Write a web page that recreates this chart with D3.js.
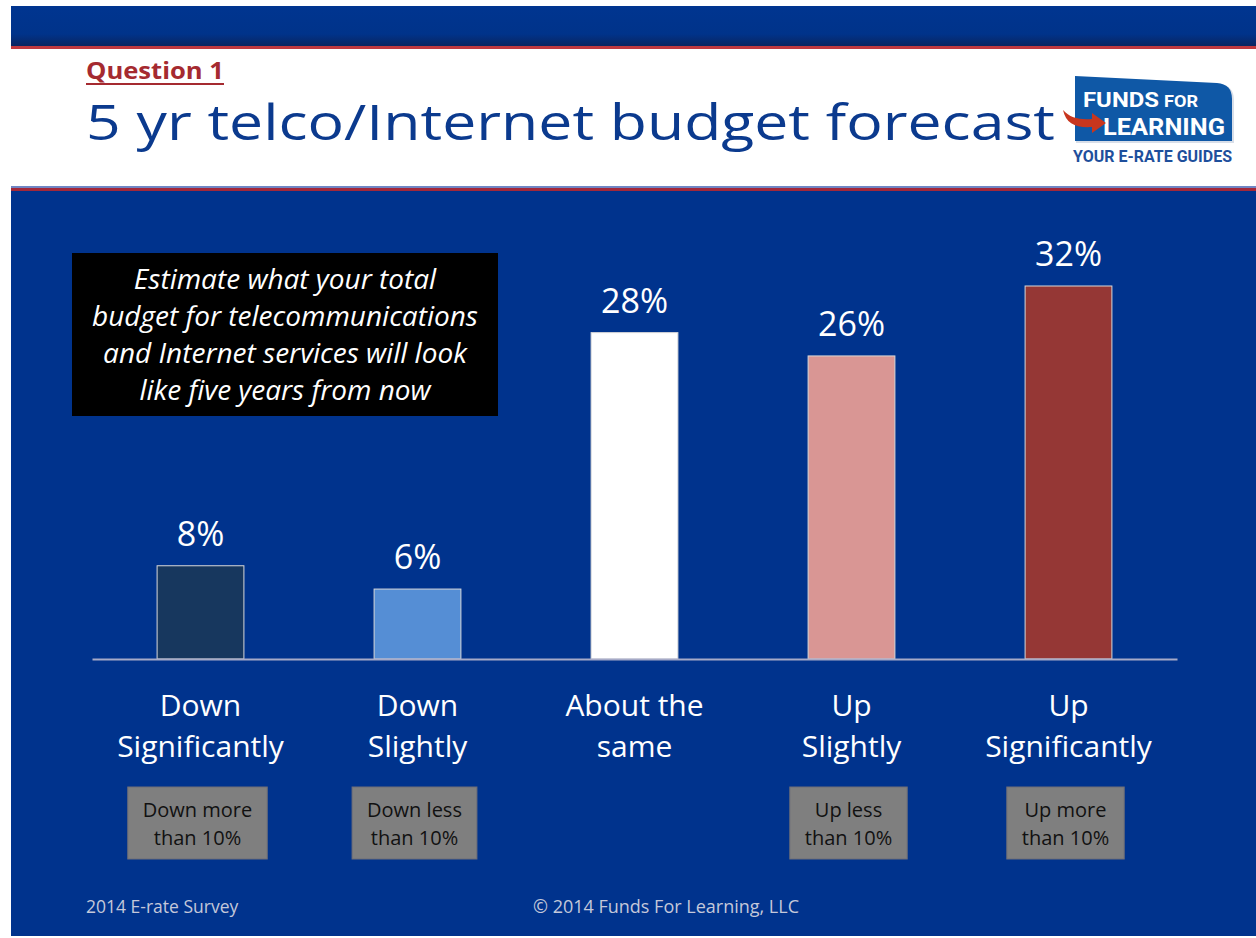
<!DOCTYPE html>
<html>
<head>
<meta charset="utf-8">
<script src="https://cdn.jsdelivr.net/npm/d3@7"></script>
<style>
  html, body { margin: 0; padding: 0; background: #ffffff; }
  svg { display: block; }
</style>
</head>
<body>
<script>
// ---------------- data ----------------
const categories = [
  ["Down", "Significantly"],
  ["Down", "Slightly"],
  ["About the", "same"],
  ["Up", "Slightly"],
  ["Up", "Significantly"]
];
const values = [8, 6, 28, 26, 32];
const notes = [
  ["Down more", "than 10%"],
  ["Down less", "than 10%"],
  null,
  ["Up less", "than 10%"],
  ["Up more", "than 10%"]
];
const barColors = ["#17375E", "#558ED5", "#FFFFFF", "#D99694", "#953735"];
const questionLabel = "Question 1";
const titleText = "5 yr telco/Internet budget forecast";
const promptLines = [
  "Estimate what your total",
  "budget for telecommunications",
  "and Internet services will look",
  "like five years from now"
];
const footerLeft = "2014 E-rate Survey";
const footerCenter = "\u00A9 2014 Funds For Learning, LLC";

// ---------------- setup ----------------
const W = 1256, H = 938;
const FONT = "'Open Sans', 'Noto Sans', sans-serif";
const BLUE = "#00338D";

const svg = d3.select("body").append("svg")
  .attr("width", W).attr("height", H)
  .style("font-family", FONT);

const defs = svg.append("defs");
const grad = defs.append("linearGradient").attr("id", "topband")
  .attr("x1", 0).attr("y1", 0).attr("x2", 0).attr("y2", 1);
grad.append("stop").attr("offset", "0%").attr("stop-color", "#003590");
grad.append("stop").attr("offset", "70%").attr("stop-color", "#00338A");
grad.append("stop").attr("offset", "100%").attr("stop-color", "#0A2560");

// background
svg.append("rect").attr("width", W).attr("height", H).attr("fill", "#ffffff");
// top band
svg.append("rect").attr("x", 11).attr("y", 6).attr("width", W - 11).attr("height", 40).attr("fill", "url(#topband)");
svg.append("rect").attr("x", 11).attr("y", 46).attr("width", W - 11).attr("height", 3).attr("fill", "#C0393F");
// lower header lines + main panel
svg.append("rect").attr("x", 11).attr("y", 186).attr("width", W - 11).attr("height", 2).attr("fill", "#6F86C4");
svg.append("rect").attr("x", 11).attr("y", 188).attr("width", W - 11).attr("height", 3).attr("fill", "#A3283A");
svg.append("rect").attr("x", 11).attr("y", 191).attr("width", W - 11).attr("height", 745).attr("fill", BLUE);

// ---------------- header text ----------------
svg.append("text").attr("x", 86).attr("y", 79)
  .attr("font-size", 24).attr("font-weight", 700).attr("fill", "#A52A30")
  .attr("textLength", 138).attr("lengthAdjust", "spacingAndGlyphs")
  .text(questionLabel);
svg.append("rect").attr("x", 86).attr("y", 83).attr("width", 138).attr("height", 2).attr("fill", "#A52A30");

svg.append("text").attr("x", 86).attr("y", 140)
  .attr("font-size", 50).attr("fill", "#0B3A8E")
  .attr("textLength", 969).attr("lengthAdjust", "spacingAndGlyphs")
  .text(titleText);

// ---------------- logo ----------------
const logo = svg.append("g");
logo.append("path")
  .attr("d", "M1076,77 L1218,84 Q1234,85 1234,100 L1234,143 L1076,143 Z")
  .attr("fill", "#D8DEE8");
logo.append("path")
  .attr("d", "M1075,76 L1217,83 Q1232,84 1232,99 L1232,141 L1075,141 Z")
  .attr("fill", "#0F58A6");
logo.append("text").attr("x", 1083).attr("y", 107)
  .attr("font-family", "Roboto, sans-serif").attr("font-weight", 700)
  .attr("font-size", 21).attr("fill", "#ffffff")
  .attr("textLength", 76).attr("lengthAdjust", "spacingAndGlyphs").text("FUNDS");
logo.append("text").attr("x", 1164).attr("y", 107)
  .attr("font-family", "Roboto, sans-serif").attr("font-weight", 700)
  .attr("font-size", 16).attr("fill", "#ffffff")
  .attr("textLength", 34).attr("lengthAdjust", "spacingAndGlyphs").text("FOR");
logo.append("text").attr("x", 1103).attr("y", 135)
  .attr("font-family", "Roboto, sans-serif").attr("font-weight", 700)
  .attr("font-size", 24).attr("fill", "#ffffff")
  .attr("textLength", 122).attr("lengthAdjust", "spacingAndGlyphs").text("LEARNING");
logo.append("path")
  .attr("d", "M1063,110 C1066,124 1076,128 1092,127 L1092,133 L1106,123 L1092,113 L1092,119 C1080,120 1070,118 1063,110 Z")
  .attr("fill", "#C8361E");
logo.append("text").attr("x", 1073).attr("y", 162)
  .attr("font-family", "Roboto, sans-serif").attr("font-weight", 700)
  .attr("font-size", 17).attr("fill", "#1E4F9C")
  .attr("textLength", 159).attr("lengthAdjust", "spacingAndGlyphs").text("YOUR E-RATE GUIDES");

// ---------------- chart ----------------
const x = d3.scaleBand()
  .domain(d3.range(values.length))
  .range([92, 1177])
  .paddingInner(0.6)
  .paddingOuter(0.3);
const y = d3.scaleLinear().domain([0, 32]).range([659, 286]);

// bars
svg.append("g").selectAll("rect").data(values).join("rect")
  .attr("x", (d, i) => x(i))
  .attr("y", d => y(d))
  .attr("width", x.bandwidth())
  .attr("height", d => y(0) - y(d))
  .attr("fill", (d, i) => barColors[i])
  .attr("stroke", "#D9D9D9").attr("stroke-width", 1);

// baseline axis
const axis = svg.append("g").attr("transform", `translate(0,${y(0)})`)
  .call(d3.axisBottom(x).tickSize(0).tickFormat(""));
axis.select(".domain").attr("stroke", "#A6AAC8").attr("stroke-width", 2);

// value labels
svg.append("g").selectAll("text").data(values).join("text")
  .attr("x", (d, i) => x(i) + x.bandwidth() / 2)
  .attr("y", d => y(d) - 20)
  .attr("text-anchor", "middle")
  .attr("font-size", 34).attr("fill", "#ffffff")
  .text(d => d + "%");

// category labels
const catG = svg.append("g").selectAll("text").data(categories).join("text")
  .attr("text-anchor", "middle")
  .attr("font-size", 30).attr("fill", "#ffffff");
catG.each(function(lines, i) {
  const t = d3.select(this);
  lines.forEach((ln, j) => {
    t.append("tspan")
      .attr("x", x(i) + x.bandwidth() / 2)
      .attr("y", 716 + j * 41)
      .text(ln);
  });
});

// note boxes
notes.forEach((n, i) => {
  if (!n) return;
  const cx = x(i) + x.bandwidth() / 2 - 3;
  const g = svg.append("g");
  const box = g.append("rect").attr("fill", "#7F7F7F").attr("stroke", "#6E6E78").attr("stroke-width", 1);
  const t = g.append("text").attr("text-anchor", "middle").attr("font-size", 20).attr("fill", "#111111");
  n.forEach((ln, j) => {
    t.append("tspan").attr("x", cx).attr("y", 817 + j * 28).text(ln);
  });
  const w = t.node().getBBox().width + 30;
  box.attr("x", cx - w / 2).attr("y", 787).attr("width", w).attr("height", 72);
});

// prompt box
svg.append("rect").attr("x", 72).attr("y", 253).attr("width", 426).attr("height", 163).attr("fill", "#000000");
const pt = svg.append("text").attr("text-anchor", "middle")
  .attr("font-size", 28).attr("font-style", "italic").attr("fill", "#ffffff");
promptLines.forEach((ln, j) => {
  pt.append("tspan").attr("x", 285).attr("y", 289 + j * 37).text(ln);
});

// footer
svg.append("text").attr("x", 86).attr("y", 913)
  .attr("font-size", 17.5).attr("fill", "#C4C8DA").text(footerLeft);
svg.append("text").attr("x", 666).attr("y", 913).attr("text-anchor", "middle")
  .attr("font-size", 18).attr("fill", "#C4C8DA").text(footerCenter);
</script>
</body>
</html>
